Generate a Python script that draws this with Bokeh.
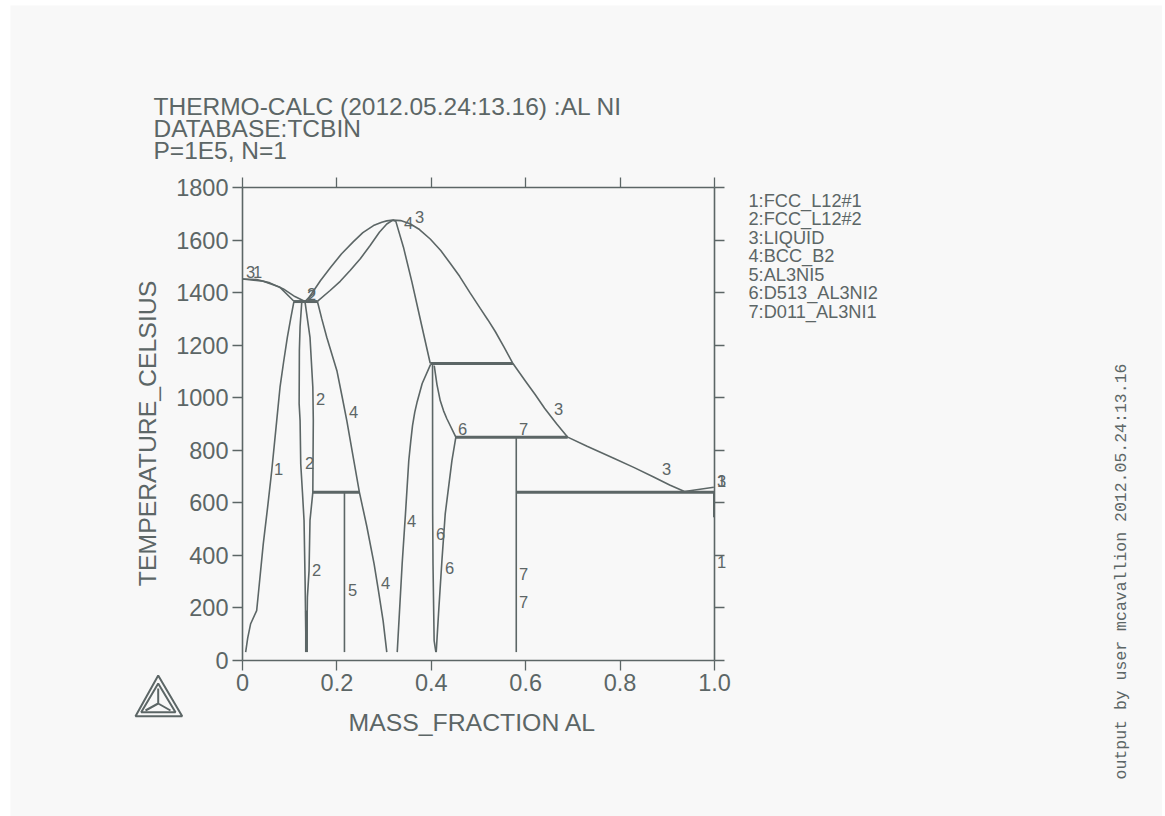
from bokeh.plotting import figure
from bokeh.models import LinearAxis, FixedTicker, Label, PolyAnnotation, Range1d
from bokeh.embed import file_html
from bokeh.resources import INLINE

INK = "#5c6666"
BG = "#f8f8f8"
FONT = "Liberation Sans"

x_ticks = [0, 0.2, 0.4, 0.6, 0.8, 1.0]
x_tick_labels = ["0", "0.2", "0.4", "0.6", "0.8", "1.0"]
y_ticks = [0, 200, 400, 600, 800, 1000, 1200, 1400, 1600, 1800]

liquid_ni_x = [0.0, 0.030, 0.058, 0.0866, 0.111, 0.1326]
liquid_ni_t = [1452, 1450, 1437, 1414, 1385, 1366]
gamma_sol_x = [0.0, 0.044, 0.0795, 0.109]
gamma_sol_t = [1452, 1443, 1420, 1367]
liquid_up_x = [0.1326, 0.140, 0.150, 0.165, 0.1856, 0.21, 0.235, 0.255, 0.2775, 0.295, 0.3057, 0.3185, 0.335, 0.355, 0.375, 0.3977, 0.42, 0.44, 0.46, 0.4825, 0.5037, 0.52, 0.5355, 0.555, 0.573, 0.60, 0.62, 0.64, 0.665, 0.689, 0.73, 0.7865, 0.83, 0.871, 0.905, 0.9364, 0.9985]
liquid_up_t = [1366, 1380, 1405, 1445, 1494, 1548, 1594, 1628, 1655, 1668, 1673, 1676, 1674, 1662, 1640, 1604, 1560, 1512, 1462, 1398, 1340, 1296, 1252, 1190, 1130, 1062, 1012, 960, 902, 850, 815, 770, 734, 698, 668, 643, 659]
bcc_sol_l_x = [0.1586, 0.1856, 0.207, 0.228, 0.25, 0.2704, 0.29, 0.3057, 0.3185]
bcc_sol_l_t = [1367, 1408, 1443, 1484, 1530, 1579, 1630, 1661, 1676]
bcc_sol_r_x = [0.3185, 0.3247, 0.341, 0.359, 0.380, 0.3977]
bcc_sol_r_t = [1676, 1672, 1573, 1440, 1272, 1131]
gamma_solvus_x = [0.109, 0.102, 0.095, 0.087, 0.0795, 0.0725, 0.062, 0.053, 0.044, 0.0336, 0.030, 0.0173, 0.011, 0.0067]
gamma_solvus_t = [1367, 1300, 1230, 1135, 1040, 913, 723, 580, 444, 254, 190, 140, 85, 32]
gp_left_x = [0.1255, 0.122, 0.1205, 0.120, 0.122, 0.1234, 0.127, 0.1304, 0.1326, 0.1347]
gp_left_t = [1363, 1270, 1180, 977, 913, 748, 640, 533, 304, 32]
gp_right_x = [0.1326, 0.143, 0.149, 0.150, 0.149, 0.143, 0.141, 0.1375, 0.136]
gp_right_t = [1363, 1230, 1040, 913, 640, 533, 342, 241, 32]
bcc_left_x = [0.1586, 0.168, 0.1785, 0.2, 0.2115, 0.221, 0.234, 0.2477, 0.2634, 0.2788, 0.2885, 0.298, 0.3057]
bcc_left_t = [1367, 1300, 1230, 1103, 1000, 913, 780, 640, 510, 368, 260, 150, 32]
bcc_right_x = [0.3278, 0.3383, 0.3453, 0.3523, 0.3565, 0.3602, 0.365, 0.3701, 0.3807, 0.3983]
bcc_right_t = [32, 369, 559, 761, 835, 894, 945, 985, 1054, 1126]
d513_left_x = [0.4026, 0.4029, 0.4036, 0.406, 0.4097]
d513_left_t = [1130, 558, 368, 76, 32]
d513_right_x = [0.4062, 0.412, 0.4189, 0.426, 0.433, 0.452, 0.4437, 0.4295, 0.4225, 0.4153, 0.4104]
d513_right_t = [1122, 1050, 989, 950, 920, 850, 761, 558, 380, 178, 32]
al3ni5_x = [0.216, 0.216]
al3ni5_t = [640, 32]
al3ni_x = [0.580, 0.580]
al3ni_t = [850, 32]
al_x = [0.9985, 0.9985]
al_t = [645, 545]
gp_bottom_x = [0.1355, 0.1355]
gp_bottom_t = [190, 32]

thin_curves = [
    (liquid_ni_x, liquid_ni_t), (gamma_sol_x, gamma_sol_t), (liquid_up_x, liquid_up_t),
    (bcc_sol_l_x, bcc_sol_l_t), (bcc_sol_r_x, bcc_sol_r_t), (gamma_solvus_x, gamma_solvus_t),
    (gp_left_x, gp_left_t), (gp_right_x, gp_right_t), (bcc_left_x, bcc_left_t),
    (bcc_right_x, bcc_right_t), (d513_left_x, d513_left_t), (d513_right_x, d513_right_t),
    (al3ni5_x, al3ni5_t), (al3ni_x, al3ni_t), (al_x, al_t),
]

inv_1366_x = [0.109, 0.1586]
inv_1366_t = [1366, 1366]
inv_1130_x = [0.3977, 0.573]
inv_1130_t = [1130, 1130]
inv_850_x = [0.452, 0.689]
inv_850_t = [850, 850]
inv_640a_x = [0.149, 0.2477]
inv_640a_t = [640, 640]
inv_640b_x = [0.580, 1.0]
inv_640b_t = [640, 640]
thick_curves = [
    (inv_1366_x, inv_1366_t), (inv_1130_x, inv_1130_t), (inv_850_x, inv_850_t),
    (inv_640a_x, inv_640a_t), (inv_640b_x, inv_640b_t), (gp_bottom_x, gp_bottom_t),
]

title_lines = ["THERMO-CALC (2012.05.24:13.16) :AL NI", "DATABASE:TCBIN", "P=1E5, N=1"]
legend_lines = ["1:FCC_L12#1", "2:FCC_L12#2", "3:LIQUID", "4:BCC_B2", "5:AL3NI5", "6:D513_AL3NI2", "7:D011_AL3NI1"]
side_note = "output by user mcavallion 2012.05.24:13.16"
x_title = "MASS_FRACTION AL"
y_title = "TEMPERATURE_CELSIUS"

# line-number annotations: (text, page x, page y)
curve_labels = [
    ("3", 250, 271), ("1", 257, 271), ("2", 311, 293), ("2", 311, 295), ("4", 408, 222), ("3", 419, 216),
    ("2", 320, 398), ("4", 353, 411), ("1", 278, 468), ("2", 309, 462), ("6", 462, 428), ("7", 523, 428),
    ("3", 558, 408), ("3", 666, 468), ("3", 721, 480), ("1", 721, 480), ("4", 411, 520), ("6", 440, 533),
    ("6", 449, 567), ("2", 316, 569), ("5", 352, 589), ("4", 385, 582), ("7", 523, 573), ("7", 523, 601),
    ("1", 721, 561),
]

X0, X1, Y0, Y1 = 242, 714, 660, 187
MX, MY = 10, 5
W, H = 1152, 811


def dx(px):
    return (px - X0) / (X1 - X0)


def dy(py):
    return (Y0 - py) / (Y0 - Y1) * 1800


p = figure(width=W, height=H, output_backend="svg", toolbar_location=None,
           x_range=Range1d(dx(MX), dx(MX + W)), y_range=Range1d(dy(MY + H), dy(MY)),
           x_axis_location=None, y_axis_location=None,
           frame_width=W, frame_height=H,
           min_border_left=0, min_border_top=0, min_border_right=0, min_border_bottom=0,
           background_fill_color=BG, border_fill_color=BG, margin=(MY, 0, 0, MX))
p.grid.visible = False
p.outline_line_color = None


def make_axis(ticks, labels, location, bounds):
    ax = LinearAxis(ticker=FixedTicker(ticks=ticks), fixed_location=location, bounds=bounds)
    ax.axis_line_color = INK
    ax.axis_line_width = 1.6
    ax.major_tick_line_color = INK
    ax.major_tick_line_width = 1.3
    ax.major_tick_in = 0
    ax.major_tick_out = 10
    ax.minor_tick_line_color = None
    ax.major_label_text_font = FONT
    ax.major_label_text_font_size = "23.5px"
    ax.major_label_text_color = INK
    ax.major_label_overrides = labels
    return ax


bottom = make_axis(x_ticks, dict(zip(x_ticks, x_tick_labels)), 0, (0, 1))
bottom.major_label_standoff = 3
top = make_axis(x_ticks, {t: "" for t in x_ticks}, 1800, (0, 1))
left = make_axis(y_ticks, {t: str(t) for t in y_ticks}, 0, (0, 1800))
left.major_label_standoff = 4
right = make_axis(y_ticks, {t: "" for t in y_ticks}, 1, (0, 1800))
p.add_layout(bottom, "below")
p.add_layout(top, "above")
p.add_layout(left, "left")
p.add_layout(right, "right")

for cx, ct in thin_curves:
    p.line(cx, ct, line_color=INK, line_width=1.6)
for cx, ct in thick_curves:
    p.line(cx, ct, line_color=INK, line_width=3)


def add_text(text, px, py, size, align="left", angle=0, font=FONT):
    p.add_layout(Label(x=dx(px), y=dy(py), text=text,
                       text_font=font, text_font_size=size, text_color=INK,
                       text_align=align, text_baseline="middle", angle=angle))


for i, line in enumerate(title_lines):
    add_text(line, 153, 105.5 + i * 22, "24.5px")
for i, line in enumerate(legend_lines):
    add_text(line, 748, 200 + i * 18.5, "18.2px")
for text, px, py in curve_labels:
    add_text(text, px, py, "16.5px", align="center")
add_text(side_note, 1121, 571, "16.5px", align="center", angle=1.5708, font="Liberation Mono")
add_text(x_title, 472, 722, "24.8px", align="center")
add_text(y_title, 147, 433, "24.8px", align="center", angle=1.5708)

# Thermo-Calc logo
logo = [
    [(157.7, 675), (135, 715.7), (181.7, 715.7)],
    [(157.7, 683), (140.7, 711.7), (175, 711.7)],
    [(157.7, 703), (157.7, 688), (157.7, 703), (145, 710), (157.7, 703), (170, 710)],
]
for tri in logo:
    p.add_layout(PolyAnnotation(xs=[dx(a) for a, _ in tri], ys=[dy(b) for _, b in tri],
                                fill_alpha=0, line_color=INK, line_alpha=1, line_width=2))

open("out.html", "w").write(file_html(p, INLINE))
